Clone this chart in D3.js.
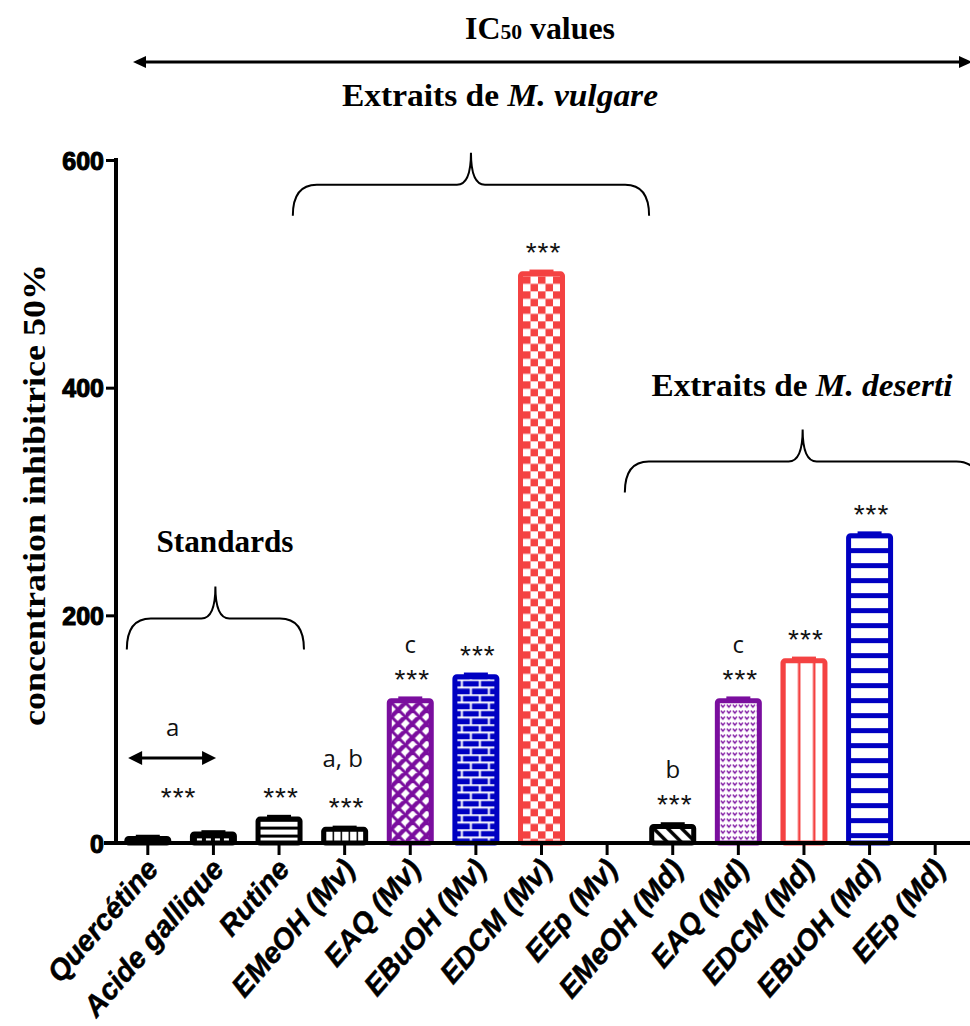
<!DOCTYPE html>
<html><head><meta charset="utf-8">
<script src="https://cdn.jsdelivr.net/npm/d3@7"></script>
<style>body{margin:0;background:#fff} svg{display:block}</style>
</head><body><svg id="c" width="970" height="1026"></svg>
<script>
// ---------- data ----------
const categories = ["Quercétine","Acide gallique","Rutine","EMeOH (Mv)","EAQ (Mv)","EBuOH (Mv)","EDCM (Mv)","EEp (Mv)","EMeOH (Md)","EAQ (Md)","EDCM (Md)","EBuOH (Md)","EEp (Md)"];
const values = [4, 8, 21, 12, 125, 146, 500, null, 14.5, 125, 160, 270, null];
const errors = [1.5, 1.5, 2, 1.5, 2, 2, 2, null, 2, 2, 2, 2, null];
const stars   = ["", "", "***", "***", "***", "***", "***", "", "***", "***", "***", "***", ""];
const letters = ["", "", "", "a, b", "c", "", "", "", "b", "c", "", "", ""];
const yTicks = [0, 200, 400, 600];
const groupLabel = "Standards", mvLabel = "M. vulgare", mdLabel = "M. deserti";

// ---------- styles (not data) ----------
const PURPLE = "#7A0E9E", BLUE = "#0000C2", RED = "#F44242", BLACK = "#000";
const barColors = [BLACK, BLACK, BLACK, BLACK, PURPLE, BLUE, RED, BLACK, BLACK, PURPLE, RED, BLUE, BLACK];
const barPatterns = ["hlinesThin","squares","hlines","vlines","cross","brick","checker","none","diag","dots","vlinesWide","hlinesWide","none"];

const svg = d3.select("#c");
const defs = svg.append("defs");

const x = d3.scaleBand().domain(categories).range([115, 968]).paddingInner(0.36).paddingOuter(0.18);
const y = d3.scaleLinear().domain([0, 600]).range([843, 160]);
const bw = x.bandwidth();
const xc = c => x(c) + bw / 2;
const xi = i => xc(categories[0]) + i * x.step();

// ---------- patterns ----------
function makePattern(id, type, color, x0, y0) {
  const p = defs.append("pattern").attr("id", id).attr("patternUnits", "userSpaceOnUse");
  const set = (w, h) => p.attr("width", w).attr("height", h).attr("x", x0).attr("y", y0);
  const bg = (w, h) => p.append("rect").attr("width", w).attr("height", h).attr("fill", "#fff");
  if (type === "hlines" || type === "hlinesThin") {
    set(10, 8); bg(10, 8);
    p.append("rect").attr("y", 5).attr("width", 10).attr("height", 3).attr("fill", color);
  } else if (type === "hlinesWide") {
    set(10, 15); bg(10, 15);
    p.append("rect").attr("y", 10).attr("width", 10).attr("height", 5).attr("fill", color);
  } else if (type === "vlines") {
    set(8, 10); bg(8, 10);
    p.append("rect").attr("x", 6.5).attr("width", 2.6).attr("height", 10).attr("fill", color);
  } else if (type === "vlinesWide") {
    set(15, 10); bg(15, 10);
    p.append("rect").attr("x", 12.5).attr("width", 5).attr("height", 10).attr("fill", color);
  } else if (type === "squares") {
    set(9, 7); p.append("rect").attr("width", 9).attr("height", 7).attr("fill", color);
    p.append("rect").attr("x", 2).attr("y", 2).attr("width", 5).attr("height", 3).attr("fill", "#fff");
  } else if (type === "cross") {
    set(14, 14); bg(14, 14);
    p.append("path").attr("d", "M-1,-1L15,15M-1,15L15,-1M-8,6L1,15M6,-8L15,1M13,-1L-1,13M15,13L13,15")
      .attr("stroke", color).attr("stroke-width", 3).attr("fill", "none");
  } else if (type === "brick") {
    set(18, 15); p.append("rect").attr("width", 18).attr("height", 15).attr("fill", color);
    p.append("path").attr("d", "M0,0.75H18M0,8.25H18M4.5,0V7.5M13.5,7.5V15")
      .attr("stroke", "#fff").attr("stroke-width", 2).attr("fill", "none");
  } else if (type === "checker") {
    set(15, 15); bg(15, 15);
    p.append("rect").attr("width", 7.5).attr("height", 7.5).attr("fill", color);
    p.append("rect").attr("x", 7.5).attr("y", 7.5).attr("width", 7.5).attr("height", 7.5).attr("fill", color);
  } else if (type === "diag") {
    set(14, 14); bg(14, 14);
    p.append("path").attr("d", "M-2,-2L16,16M-9,5L2,16M5,-9L16,2")
      .attr("stroke", color).attr("stroke-width", 3.5).attr("fill", "none");
  } else if (type === "dots") {
    set(6, 6); bg(6, 6);
    p.append("path").attr("d", "M1,1.5L3,4L5,1.5").attr("stroke", color).attr("stroke-width", 1.3).attr("fill", "none");
  }
}

// ---------- bars ----------
const gBars = svg.append("g");
categories.forEach((c, i) => {
  const v = values[i];
  if (v == null) return;
  const id = "pat" + i;
  makePattern(id, barPatterns[i], barColors[i], x(c) + 2.5, y(v) + 2.5);
  gBars.append("rect")
    .attr("x", x(c)).attr("y", y(v))
    .attr("width", bw).attr("height", y(0) - y(v))
    .attr("rx", 2)
    .attr("fill", `url(#${id})`)
    .attr("stroke", barColors[i]).attr("stroke-width", 5);
  gBars.append("line")
    .attr("x1", xc(c) - 12).attr("x2", xc(c) + 12)
    .attr("y1", y(v + errors[i])).attr("y2", y(v + errors[i]))
    .attr("stroke", barColors[i]).attr("stroke-width", 4);
});

// ---------- axes ----------
const yAxis = svg.append("g").attr("transform", "translate(116,0)")
  .call(d3.axisLeft(y).tickValues(yTicks).tickSize(10).tickSizeOuter(0).tickPadding(2));
yAxis.select(".domain").attr("stroke-width", 4).attr("d", "M0,158V845");
yAxis.selectAll(".tick line").attr("stroke-width", 3);
yAxis.selectAll(".tick text")
  .attr("font-family", "Liberation Sans, Arial, sans-serif").attr("font-weight", "bold")
  .attr("font-size", 25).attr("fill", "#000").attr("stroke", "#000").attr("stroke-width", 1.1)
  .attr("dy", "0.36em");

const xAxis = svg.append("g").attr("transform", "translate(0,843)")
  .call(d3.axisBottom(x).tickSize(12).tickSizeOuter(0));
xAxis.select(".domain").attr("stroke-width", 4).attr("d", "M104,0H970");
xAxis.selectAll(".tick line").attr("stroke-width", 3);
xAxis.selectAll(".tick text").remove();
xAxis.selectAll(".tick").append("text")
  .attr("transform", "translate(12,27) rotate(-49)")
  .attr("text-anchor", "end")
  .attr("font-family", "Liberation Sans, Arial, sans-serif")
  .attr("font-weight", "bold").attr("font-style", "italic")
  .attr("font-size", 29).attr("fill", "#000").attr("stroke", "#000").attr("stroke-width", 0.5)
  .text(d => d);

// ---------- y label ----------
svg.append("text")
  .attr("transform", "translate(45,495) rotate(-90)")
  .attr("text-anchor", "middle")
  .attr("font-family", "Liberation Serif, Times New Roman, serif").attr("font-weight", "bold")
  .attr("font-size", 31).attr("textLength", 462).attr("lengthAdjust", "spacingAndGlyphs")
  .text("concentration inhibitrice 50%");

// ---------- annotations ----------
const annFont = "Open Sans, Lato, sans-serif";
const starFont = "Liberation Sans, Arial, sans-serif";
categories.forEach((c, i) => {
  if (stars[i]) {
    svg.append("text").attr("x", xc(c) + 2).attr("y", y(values[i]) - 12)
      .attr("text-anchor", "middle").attr("font-family", starFont)
      .attr("font-size", 28).attr("letter-spacing", 1).attr("fill", "#111").text(stars[i]);
  }
  if (letters[i]) {
    const off = letters[i].length > 1 ? 62 : 48;
    svg.append("text").attr("x", xc(c) - (letters[i].length > 1 ? 2 : 0)).attr("y", y(values[i]) - off)
      .attr("text-anchor", "middle").attr("font-family", annFont)
      .attr("font-size", 24).attr("fill", "#111").text(letters[i]);
  }
});
const gx = (xc(categories[0]) + xc(categories[1])) / 2;
svg.append("text").attr("x", gx - 2).attr("y", y(values[1]) - 27)
  .attr("text-anchor", "middle").attr("font-family", starFont)
  .attr("font-size", 28).attr("letter-spacing", 1).attr("fill", "#111").text("***");
svg.append("text").attr("x", gx - 8).attr("y", y(values[1]) - 98)
  .attr("text-anchor", "middle").attr("font-family", annFont)
  .attr("font-size", 24).attr("fill", "#111").text("a");

function dblArrow(x1, x2, yy, head, half, sw) {
  svg.append("line").attr("x1", x1 + head - 2).attr("x2", x2 - head + 2).attr("y1", yy).attr("y2", yy)
    .attr("stroke", "#000").attr("stroke-width", sw);
  svg.append("path").attr("d", `M${x1},${yy}L${x1 + head},${yy - half}L${x1 + head},${yy + half}Z`).attr("fill", "#000");
  svg.append("path").attr("d", `M${x2},${yy}L${x2 - head},${yy - half}L${x2 - head},${yy + half}Z`).attr("fill", "#000");
}
dblArrow(xi(-0.3), xi(1.04), 758, 14, 7, 3);
dblArrow(133, 972, 62, 13, 6, 3);

// ---------- braces ----------
function brace(i1, i2, vBottom) {
  const x1 = xi(i1), x2 = xi(i2), xm = (x1 + x2) / 2;
  const yB = y(vBottom), yM = yB - 31, yT = yB - 63;
  const r = 24, r2 = 14;
  const d = `M${x1},${yB}Q${x1},${yM} ${x1 + r},${yM}L${xm - r2},${yM}Q${xm},${yM} ${xm},${yT}` +
            `Q${xm},${yM} ${xm + r2},${yM}L${x2 - r},${yM}Q${x2},${yM} ${x2},${yB}`;
  svg.append("path").attr("d", d).attr("fill", "none").attr("stroke", "#000").attr("stroke-width", 2);
}
const serif = "Liberation Serif, Times New Roman, serif";
function title(xm, yy, parts, len) {
  const t = svg.append("text").attr("x", xm).attr("y", yy).attr("text-anchor", "middle")
    .attr("font-family", serif).attr("font-weight", "bold").attr("font-size", 31)
    .attr("textLength", len).attr("lengthAdjust", "spacingAndGlyphs");
  parts.forEach(p => t.append("tspan").attr("font-style", p.it ? "italic" : null).text(p.t));
}
brace(-0.32, 2.38, 170);
title(225, 552, [{ t: groupLabel }], 137);
brace(2.21, 7.64, 551);
title(500, 106, [{ t: "Extraits de " }, { t: mvLabel, it: true }], 316);
brace(7.27, 12.69, 308);
title(802, 396, [{ t: "Extraits de " }, { t: mdLabel, it: true }], 301);

const ic = svg.append("text").attr("x", 540).attr("y", 39).attr("text-anchor", "middle")
  .attr("font-family", serif).attr("font-weight", "bold").attr("font-size", 31)
  .attr("textLength", 150).attr("lengthAdjust", "spacingAndGlyphs");
ic.append("tspan").text("IC");
ic.append("tspan").attr("font-size", 21).text("50");
ic.append("tspan").text(" values");
</script></body></html>
